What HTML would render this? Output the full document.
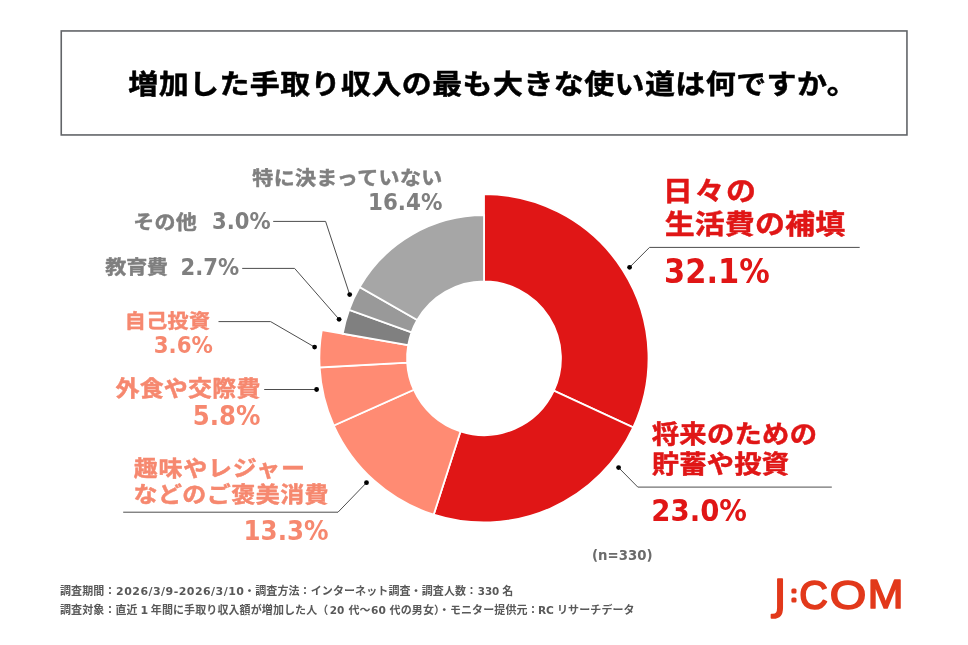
<!DOCTYPE html>
<html lang="ja">
<head>
<meta charset="utf-8">
<title>増加した手取り収入の最も大きな使い道</title>
<style>
html,body{margin:0;padding:0;background:#fff;}
body{width:968px;height:645px;overflow:hidden;position:relative;}
svg{position:absolute;left:0;top:0;display:block;}
text{font-family:"Liberation Sans","Noto Sans CJK JP",sans-serif;font-weight:bold;}
.jp{font-family:"Noto Sans CJK JP","Liberation Sans",sans-serif;font-weight:bold;stroke-width:0.5px;stroke-linejoin:round;}
.red{fill:#e01616;stroke:#e01616;}
.sal{fill:#f6886f;stroke:#f6886f;}
.gry{fill:#7f7f7f;stroke:#7f7f7f;}
.num{font-family:"DejaVu Sans","Liberation Sans",sans-serif;font-weight:bold;stroke:none;}
.foot{fill:#595959;font-size:11px;font-family:"DejaVu Sans","Noto Sans CJK JP",sans-serif;font-weight:bold;}
</style>
</head>
<body>
<svg width="968" height="645" viewBox="0 0 968 645">
<rect x="0" y="0" width="968" height="645" fill="#fff"/>
<rect x="61.25" y="30.95" width="845.7" height="104" fill="#fff" stroke="#626468" stroke-width="1.6"/>
<g id="donut" transform="translate(484 0) scale(1.002 1) translate(-484 0)">
<path d="M484.00 194.10A164.2 164.2 0 0 1 632.94 427.43L553.66 390.64A76.8 76.8 0 0 0 484.00 281.50Z" fill="#e01616" stroke="#fff" stroke-width="1.8" stroke-linejoin="miter"/>
<path d="M632.94 427.43A164.2 164.2 0 0 1 433.80 514.64L460.52 431.42A76.8 76.8 0 0 0 553.66 390.64Z" fill="#e01616" stroke="#fff" stroke-width="1.8" stroke-linejoin="miter"/>
<path d="M433.77 514.73A164.3 164.3 0 0 1 334.08 425.52L413.92 389.72A76.8 76.8 0 0 0 460.52 431.42Z" fill="#ff8b73" stroke="#fff" stroke-width="1.8" stroke-linejoin="miter"/>
<path d="M334.08 425.52A164.3 164.3 0 0 1 319.96 367.47L407.32 362.59A76.8 76.8 0 0 0 413.92 389.72Z" fill="#ff8b73" stroke="#fff" stroke-width="1.8" stroke-linejoin="miter"/>
<path d="M319.96 367.47A164.3 164.3 0 0 1 322.15 330.05L408.34 345.10A76.8 76.8 0 0 0 407.32 362.59Z" fill="#ff8b73" stroke="#fff" stroke-width="1.8" stroke-linejoin="miter"/>
<path d="M343.03 333.70A143.1 143.1 0 0 1 349.36 309.83L411.74 332.28A76.8 76.8 0 0 0 408.34 345.10Z" fill="#808080" stroke="#fff" stroke-width="1.8" stroke-linejoin="miter"/>
<path d="M349.36 309.83A143.1 143.1 0 0 1 359.88 287.07L417.39 320.07A76.8 76.8 0 0 0 411.74 332.28Z" fill="#999999" stroke="#fff" stroke-width="1.8" stroke-linejoin="miter"/>
<path d="M359.88 287.07A143.1 143.1 0 0 1 484.00 215.20L484.00 281.50A76.8 76.8 0 0 0 417.39 320.07Z" fill="#a6a6a6" stroke="#fff" stroke-width="1.8" stroke-linejoin="miter"/>
</g>
<g id="leaders">
<polyline points="273.2,221.4 325.6,221.4 349.7,294.6" fill="none" stroke="#4d4d4d" stroke-width="1"/><circle cx="349.7" cy="294.6" r="2.4" fill="#000"/>
<polyline points="242.2,268.4 294.6,268.4 339.1,319.3" fill="none" stroke="#4d4d4d" stroke-width="1"/><circle cx="339.1" cy="319.3" r="2.4" fill="#000"/>
<polyline points="218.5,321.6 270.6,321.6 314.6,347.1" fill="none" stroke="#4d4d4d" stroke-width="1"/><circle cx="314.6" cy="347.1" r="2.4" fill="#000"/>
<polyline points="264.2,389.5 316.6,389.5" fill="none" stroke="#4d4d4d" stroke-width="1"/><circle cx="316.6" cy="389.5" r="2.4" fill="#000"/>
<polyline points="123.2,512.2 338,512.2 366.5,482.7" fill="none" stroke="#4d4d4d" stroke-width="1"/><circle cx="366.5" cy="482.7" r="2.4" fill="#000"/>
<polyline points="859.7,247.4 649.5,247.4 629.6,267.3" fill="none" stroke="#4d4d4d" stroke-width="1"/><circle cx="629.6" cy="267.3" r="2.4" fill="#000"/>
<polyline points="831.8,487.1 637.8,487.1 618.6,467.6" fill="none" stroke="#4d4d4d" stroke-width="1"/><circle cx="618.6" cy="467.6" r="2.4" fill="#000"/>
</g>
<g id="labels">
<text id="title" class="jp " transform="translate(128.25 93.62) scale(1 0.92)" font-size="30" letter-spacing="0.408" stroke-width="0.9" fill="#000" stroke="#000">増加した手取り収入の最も大きな使い道は何ですか。</text>
<text id="l_toku" class="jp gry" transform="translate(252.30 185.32) scale(1 0.92)" font-size="21" letter-spacing="0.375" stroke-width="0.5">特に決まっていない</text>
<text id="n_toku" class="num gry" transform="translate(368.05 210.05) scale(0.9441 1)" font-size="22.7">16.4%</text>
<text id="l_sono" class="jp gry" transform="translate(133.30 228.70) scale(1 0.92)" font-size="21" letter-spacing="0.25" stroke-width="0.5">その他</text>
<text id="n_sono" class="num gry" transform="translate(212.05 229.35) scale(0.9318 1)" font-size="22.7">3.0%</text>
<text id="l_kyo" class="jp gry" transform="translate(105.30 274.32) scale(1 0.92)" font-size="21" letter-spacing="-0.125" stroke-width="0.5">教育費</text>
<text id="n_kyo" class="num gry" transform="translate(180.50 275.35) scale(0.9313 1)" font-size="22.7">2.7%</text>
<text id="l_jiko" class="jp sal" transform="translate(124.65 327.50) scale(1 0.92)" font-size="21" letter-spacing="0.5" stroke-width="0.5">自己投資</text>
<text id="n_jiko" class="num sal" transform="translate(153.70 353.25) scale(0.9399 1)" font-size="22.7">3.6%</text>
<text id="l_gai" class="jp sal" transform="translate(115.50 396.18) scale(1 0.92)" font-size="24" letter-spacing="0.2" stroke-width="0.5">外食や交際費</text>
<text id="n_gai" class="num sal" transform="translate(192.75 425.20) scale(0.928 1)" font-size="26.3">5.8%</text>
<text id="l_shu1" class="jp sal" transform="translate(133.85 475.50) scale(1 0.92)" font-size="24" letter-spacing="0.747" stroke-width="0.5">趣味やレジャー</text>
<text id="l_shu2" class="jp sal" transform="translate(133.45 501.65) scale(1 0.92)" font-size="24" letter-spacing="0.465" stroke-width="0.5">などのご褒美消費</text>
<text id="n_shu" class="num sal" transform="translate(243.55 540.30) scale(0.9316 1)" font-size="26.3">13.3%</text>
<text id="l_hibi1" class="jp red" transform="translate(662.85 200.82) scale(1 0.92)" font-size="30" letter-spacing="1.625" stroke-width="0.7">日々の</text>
<text id="l_hibi2" class="jp red" transform="translate(664.70 233.60) scale(1 0.92)" font-size="30" letter-spacing="0.1" stroke-width="0.7">生活費の補填</text>
<text id="n_hibi" class="num red" transform="translate(664.10 283.00) scale(0.9153 1)" font-size="33.3">32.1%</text>
<text id="l_sho1" class="jp red" transform="translate(651.75 443.23) scale(1 0.92)" font-size="27.3" letter-spacing="0.3" stroke-width="0.6">将来のための</text>
<text id="l_sho2" class="jp red" transform="translate(651.75 473.40) scale(1 0.92)" font-size="27.3" letter-spacing="0.184" stroke-width="0.6">貯蓄や投資</text>
<text id="n_sho" class="num red" transform="translate(651.30 520.60) scale(0.9226 1)" font-size="29.9">23.0%</text>
<text id="n_n" class="num " transform="translate(592.00 560.23) scale(0.9519 1)" font-size="14" fill="#6b6b6b" stroke="#6b6b6b">(n=330)</text>
</g>
<g id="logo" aria-label="J:COM">
<title>J:COM</title>
<text id="g_J" transform="translate(773.85 608.55) scale(1.0298 0.9763)" font-size="41.5" fill="#e2391b" stroke="#e2391b" stroke-width="1.7" stroke-linejoin="round" style="font-family:'DejaVu Sans',sans-serif;font-weight:normal;">J</text>
<text id="g_col" transform="translate(790.90 601.05) scale(1.041 1.0036)" font-size="20.4" fill="#e2391b" stroke="#e2391b" stroke-width="3.0" stroke-linejoin="round" style="font-family:'Liberation Sans',sans-serif;font-weight:normal;">:</text>
<text id="g_C" transform="translate(799.25 608.75) scale(0.9484 0.9891)" font-size="42" fill="#e2391b" stroke="#e2391b" stroke-width="1.7" stroke-linejoin="round" style="font-family:'Liberation Sans',sans-serif;font-weight:normal;">C</text>
<text id="g_O" transform="translate(829.80 608.75) scale(1.1184 0.9891)" font-size="42" fill="#e2391b" stroke="#e2391b" stroke-width="1.7" stroke-linejoin="round" style="font-family:'Liberation Sans',sans-serif;font-weight:normal;">O</text>
<text id="g_M" transform="translate(867.70 608.40) scale(1.0193 0.9872)" font-size="42" fill="#e2391b" stroke="#e2391b" stroke-width="1.7" stroke-linejoin="round" style="font-family:'Liberation Sans',sans-serif;font-weight:normal;">M</text>
</g>
<g id="footer">
<text class="foot" y="594.5" letter-spacing="0.1"><tspan x="60">調査期間：</tspan><tspan x="116.1" textLength="127.8" lengthAdjust="spacing" letter-spacing="0">2026/3/9-2026/3/10</tspan><tspan x="244.1">・調査方法：インターネット調査・調査人数：</tspan><tspan x="477.7" textLength="21.6" lengthAdjust="spacingAndGlyphs" letter-spacing="0">330</tspan><tspan x="499.3" letter-spacing="0"> </tspan><tspan x="502.3">名</tspan></text>
<text class="foot" y="614.3" letter-spacing="0.1"><tspan x="60">調査対象：直近</tspan><tspan x="138" letter-spacing="0"> </tspan><tspan x="140.6" letter-spacing="0">1</tspan><tspan x="148" letter-spacing="0"> </tspan><tspan x="150.8">年間に手取り収入額が増加した人（</tspan><tspan x="329.7" textLength="14.6" lengthAdjust="spacingAndGlyphs" letter-spacing="0">20</tspan><tspan x="344.5" letter-spacing="0"> </tspan><tspan x="348.4">代～</tspan><tspan x="368.5" letter-spacing="0"> </tspan><tspan x="371.1" textLength="14.8" lengthAdjust="spacingAndGlyphs" letter-spacing="0">60</tspan><tspan x="386" letter-spacing="0"> </tspan><tspan x="389.6">代の男女）</tspan><tspan x="438.8">・モニター提供元：</tspan><tspan x="537.9" textLength="16" lengthAdjust="spacingAndGlyphs" letter-spacing="0">RC</tspan><tspan x="554" letter-spacing="0"> </tspan><tspan x="557">リサーチデータ</tspan></text>
</g>
</svg>
</body>
</html>
